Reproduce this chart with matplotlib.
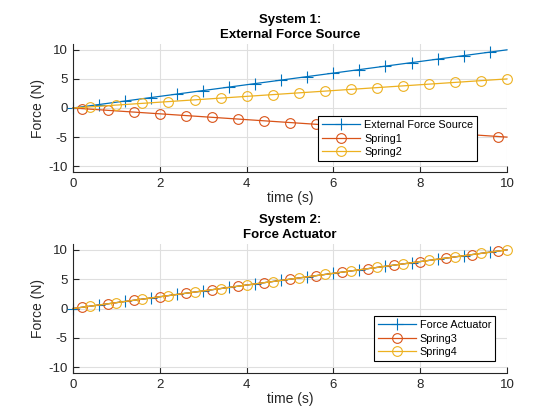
import matplotlib
matplotlib.use("Agg")
import matplotlib.pyplot as plt

plt.rcParams["font.family"] = ["Liberation Sans", "DejaVu Sans"]
plt.rcParams["axes.unicode_minus"] = False

time = [0.0, 0.2, 0.4, 0.6, 0.8, 1.0, 1.2, 1.4, 1.6, 1.8,
        2.0, 2.2, 2.4, 2.6, 2.8, 3.0, 3.2, 3.4, 3.6, 3.8,
        4.0, 4.2, 4.4, 4.6, 4.8, 5.0, 5.2, 5.4, 5.6, 5.8,
        6.0, 6.2, 6.4, 6.6, 6.8, 7.0, 7.2, 7.4, 7.6, 7.8,
        8.0, 8.2, 8.4, 8.6, 8.8, 9.0, 9.2, 9.4, 9.6, 9.8, 10.0]

external_force = [0.0, 0.2, 0.4, 0.6, 0.8, 1.0, 1.2, 1.4, 1.6, 1.8,
                  2.0, 2.2, 2.4, 2.6, 2.8, 3.0, 3.2, 3.4, 3.6, 3.8,
                  4.0, 4.2, 4.4, 4.6, 4.8, 5.0, 5.2, 5.4, 5.6, 5.8,
                  6.0, 6.2, 6.4, 6.6, 6.8, 7.0, 7.2, 7.4, 7.6, 7.8,
                  8.0, 8.2, 8.4, 8.6, 8.8, 9.0, 9.2, 9.4, 9.6, 9.8, 10.0]
spring1 = [0.0, -0.1, -0.2, -0.3, -0.4, -0.5, -0.6, -0.7, -0.8, -0.9,
           -1.0, -1.1, -1.2, -1.3, -1.4, -1.5, -1.6, -1.7, -1.8, -1.9,
           -2.0, -2.1, -2.2, -2.3, -2.4, -2.5, -2.6, -2.7, -2.8, -2.9,
           -3.0, -3.1, -3.2, -3.3, -3.4, -3.5, -3.6, -3.7, -3.8, -3.9,
           -4.0, -4.1, -4.2, -4.3, -4.4, -4.5, -4.6, -4.7, -4.8, -4.9, -5.0]
spring2 = [0.0, 0.1, 0.2, 0.3, 0.4, 0.5, 0.6, 0.7, 0.8, 0.9,
           1.0, 1.1, 1.2, 1.3, 1.4, 1.5, 1.6, 1.7, 1.8, 1.9,
           2.0, 2.1, 2.2, 2.3, 2.4, 2.5, 2.6, 2.7, 2.8, 2.9,
           3.0, 3.1, 3.2, 3.3, 3.4, 3.5, 3.6, 3.7, 3.8, 3.9,
           4.0, 4.1, 4.2, 4.3, 4.4, 4.5, 4.6, 4.7, 4.8, 4.9, 5.0]

# system 2: all three traces lie on top of each other
force_actuator = [0.0, 0.2, 0.4, 0.6, 0.8, 1.0, 1.2, 1.4, 1.6, 1.8,
                  2.0, 2.2, 2.4, 2.6, 2.8, 3.0, 3.2, 3.4, 3.6, 3.8,
                  4.0, 4.2, 4.4, 4.6, 4.8, 5.0, 5.2, 5.4, 5.6, 5.8,
                  6.0, 6.2, 6.4, 6.6, 6.8, 7.0, 7.2, 7.4, 7.6, 7.8,
                  8.0, 8.2, 8.4, 8.6, 8.8, 9.0, 9.2, 9.4, 9.6, 9.8, 10.0]
spring3 = list(force_actuator)
spring4 = list(force_actuator)

x_ticks = [0, 2, 4, 6, 8, 10]
y_ticks = [-10, -5, 0, 5, 10]

BLUE, RED, YELLOW = "#0072BD", "#D95319", "#EDB120"
AX_COLOR = "#262626"


def style_axes(ax, title):
    ax.set_xlim(0, 10)
    ax.set_ylim(-11, 11)
    ax.set_xticks(x_ticks)
    ax.set_yticks(y_ticks)
    ax.grid(True, color="#dfdfdf", linewidth=0.8)
    ax.set_axisbelow(True)
    for side in ("top", "right"):
        ax.spines[side].set_visible(False)
    for side in ("left", "bottom"):
        ax.spines[side].set_color(AX_COLOR)
        ax.spines[side].set_linewidth(0.8)
    ax.tick_params(direction="in", length=4, width=0.8, labelsize=9.5,
                   colors=AX_COLOR, pad=4)
    ax.set_xlabel("time (s)", fontsize=10, color=AX_COLOR, labelpad=1)
    ax.set_ylabel("Force (N)", fontsize=10, color=AX_COLOR, labelpad=2)
    ax.set_title(title, fontsize=9.5, fontweight="bold", color="black",
                 pad=4, linespacing=1.4)


def draw(ax, series, labels, colors, markers):
    for i, (y, lab, col, mk) in enumerate(zip(series, labels, colors, markers)):
        ax.plot(time, y, color=col, linewidth=0.9, marker=mk,
                markersize=8 if mk == "+" else 7,
                markerfacecolor="none", markeredgewidth=0.8,
                markevery=(i, 3), label=lab, clip_on=False)


fig = plt.figure(figsize=(5.6, 4.2), dpi=100)
ax1 = fig.add_axes([73 / 560, 1 - 172 / 420, 434 / 560, 128 / 420])
ax2 = fig.add_axes([73 / 560, 1 - 373 / 420, 434 / 560, 129 / 420])

draw(ax1, [external_force, spring1, spring2],
     ["External Force Source", "Spring1", "Spring2"],
     [BLUE, RED, YELLOW], ["+", "o", "o"])
style_axes(ax1, "System 1:\nExternal Force Source")

draw(ax2, [force_actuator, spring3, spring4],
     ["Force Actuator", "Spring3", "Spring4"],
     [BLUE, RED, YELLOW], ["+", "o", "o"])
style_axes(ax2, "System 2:\nForce Actuator")

leg_kw = dict(fontsize=7.8, handlelength=3.5, handletextpad=0.4,
              borderpad=0.35, labelspacing=0.32, fancybox=False,
              framealpha=1, edgecolor="black", borderaxespad=0)
leg1 = ax1.legend(loc="lower right", bbox_to_anchor=((477 - 73) / 434, 11 / 128), **leg_kw)
leg2 = ax2.legend(loc="lower right", bbox_to_anchor=((495 - 73) / 434, 12 / 129), **leg_kw)
for leg in (leg1, leg2):
    leg.get_frame().set_linewidth(0.8)

fig.savefig("out.png", dpi=100)
